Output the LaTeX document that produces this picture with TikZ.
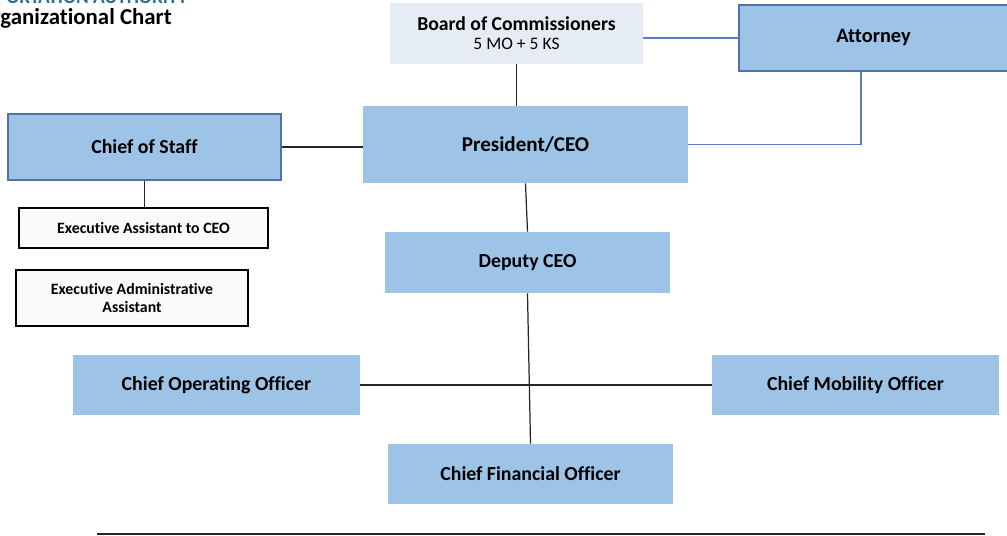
\documentclass[tikz,border=0pt]{standalone}
\usepackage{fontspec}
\setmainfont{Carlito}[Ligatures=NoCommon]
\definecolor{boxblue}{HTML}{9DC3E6}
\definecolor{boxedge}{HTML}{4F73A8}
\definecolor{boardgray}{HTML}{E6ECF4}
\definecolor{linkblue}{HTML}{5A7CC4}
\definecolor{titleteal}{HTML}{2A7090}
\tikzset{
  officer/.style={fill=boxblue, minimum width=5.7cm, minimum height=1.2cm, font=\bfseries\fontsize{11.3}{13}\selectfont, align=center},
  framed/.style={officer, draw=boxedge, line width=0.8pt},
  assist/.style={draw=black, fill=white!98!black, line width=0.7pt, font=\bfseries\fontsize{9}{10.2}\selectfont, align=center},
  link/.style={line width=0.7pt, black!85},
  bluelink/.style={line width=0.7pt, linkblue}
}
\begin{document}
\begin{tikzpicture}[x=0.02cm, y=-0.02cm]
        \useasboundingbox (0,0) rectangle (1007,536);
        % Title
        \node[anchor=base east, inner sep=0pt, text=titleteal, font=\bfseries\fontsize{11}{12}\selectfont] (org) at (188,4) {TRANSPORTATION AUTHORITY};
        \node[anchor=base east, inner sep=0pt, font=\bfseries\fontsize{13}{15}\selectfont] (title) at (172,25) {Organizational Chart};

        % Top level
        \node[officer, fill=boardgray, minimum width=5.06cm, minimum height=1.22cm, font=\bfseries\fontsize{11.2}{13}\selectfont] (board) at (516.5,33.5) {Board of Commissioners\\[-2pt]{\mdseries\fontsize{10}{11}\selectfont 5 MO + 5 KS}};
        \node[framed, minimum width=5.38cm, minimum height=1.32cm, font=\bfseries\fontsize{11.6}{13}\selectfont] (attorney) at (873.5,38) {Attorney};
        \node[officer, minimum width=6.5cm, minimum height=1.54cm, font=\bfseries\fontsize{12}{14}\selectfont] (ceo) at (525.5,144.5) {President/CEO};
        \node[framed, minimum width=5.46cm, minimum height=1.32cm] (staff) at (144.5,147) {Chief of Staff};

        % Assistants
        \node[assist, minimum width=4.98cm, minimum height=0.8cm] (execasst) at (143.5,228) {Executive Assistant to CEO};
        \node[assist, minimum width=4.64cm, minimum height=1.12cm] (execadmin) at (132,298) {Executive Administrative\\Assistant};

        % Officers
        \node[officer, minimum height=1.22cm] (deputy) at (527.5,262.5) {Deputy CEO};
        \node[officer, minimum width=5.74cm] (coo) at (216.5,385) {Chief Operating Officer};
        \node[officer, minimum width=5.74cm] (cmo) at (855.5,385) {Chief Mobility Officer};
        \node[officer] (cfo) at (530.5,474) {Chief Financial Officer};

        % Lines
        \draw[bluelink] (attorney.west) -- (attorney.west -| board.east);
        \draw[bluelink] ([xshift=-0.25cm]attorney.south) |- (ceo.east);
        \draw[link] (board.south) -- (board.south |- ceo.north);
        \draw[link] (staff.east) -- (staff.east -| ceo.west);
        \draw[link] (staff.south) -- (staff.south |- execasst.north);
        \draw[link] (ceo.south) -- (deputy.north);
        \draw[link] (deputy.south) -- (cfo.north);
        \draw[link] (coo.east) -- (cmo.west);

        % Footer rule
        \coordinate (ruleL) at (97,534);
        \coordinate (ruleR) at (985,534);
        \draw[link] (ruleL) -- (ruleR);
    \end{tikzpicture}
\end{document}
